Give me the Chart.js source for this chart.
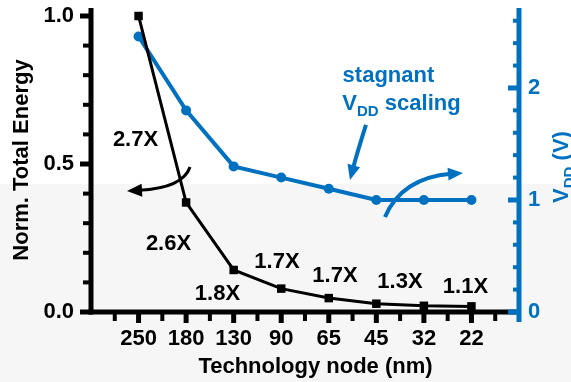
<!DOCTYPE html>
<html>
<head>
<meta charset="utf-8">
<script src="https://cdn.jsdelivr.net/npm/chart.js@4.4.0/dist/chart.umd.min.js"></script>
<style>
  html, body { margin: 0; padding: 0; background: #fff; }
  #wrap { width: 571px; height: 382px; position: relative; }
</style>
</head>
<body>
<div id="wrap"><canvas id="chart"></canvas></div>
<script>
// Data
const nodes = ['250', '180', '130', '90', '65', '45', '32', '22'];
const energy = [1.0, 0.37, 0.142, 0.079, 0.047, 0.028, 0.021, 0.019];
const vdd = [2.46, 1.8, 1.3, 1.2, 1.1, 1.0, 1.0, 1.0];
const energyTicks = ['0.0', '0.5', '1.0'];
const vddTicks = ['0', '1', '2'];
const ratios = ['2.7X', '2.6X', '1.8X', '1.7X', '1.7X', '1.3X', '1.1X'];

const BLUE = '#0070c0';
const FONT = '"Liberation Sans", Arial, sans-serif';

function arrow(ctx, p0, c, tip, color, width) {
    // quadratic curve ending in a filled arrow head
    const dx = tip[0] - c[0], dy = tip[1] - c[1];
    const d = Math.hypot(dx, dy);
    const ux = dx / d, uy = dy / d;
    const len = 15, half = 6.5;
    const bx = tip[0] - ux * (len - 3), by = tip[1] - uy * (len - 3);
    ctx.strokeStyle = color;
    ctx.fillStyle = color;
    ctx.lineWidth = width;
    ctx.beginPath();
    ctx.moveTo(p0[0], p0[1]);
    ctx.quadraticCurveTo(c[0], c[1], bx, by);
    ctx.stroke();
    const hx = tip[0] - ux * len, hy = tip[1] - uy * len;
    ctx.beginPath();
    ctx.moveTo(tip[0], tip[1]);
    ctx.lineTo(hx - uy * half, hy + ux * half);
    ctx.lineTo(hx + uy * half, hy - ux * half);
    ctx.closePath();
    ctx.fill();
}

function noPad(s) {
    s.paddingTop = 0;
    s.paddingBottom = 0;
    s.paddingLeft = 0;
    s.paddingRight = 0;
}

const decor = {
    id: 'decor',
    beforeDraw(chart) {
        const ctx = chart.ctx;
        ctx.save();
        ctx.fillStyle = '#f6f6f6';
        ctx.fillRect(0, 184, chart.width, chart.height - 184);
        ctx.restore();
    },
    beforeDatasetsDraw(chart) {
        const { ctx, chartArea: a, scales: { x, y, y2 } } = chart;
        ctx.save();
        ctx.lineCap = 'butt';
        ctx.strokeStyle = '#000';
        // x ticks, major on the nodes, minor in between
        for (let v = -0.5; v <= 7.5; v += 0.5) {
            const px = x.getPixelForValue(v);
            const major = Number.isInteger(v);
            ctx.lineWidth = major ? 5 : 4;
            ctx.beginPath();
            ctx.moveTo(px, a.bottom);
            ctx.lineTo(px, a.bottom + (major ? 11 : 9));
            ctx.stroke();
        }
        // left ticks every 0.1
        for (let i = 0; i <= 10; i++) {
            const py = y.getPixelForValue(i / 10);
            const major = i % 5 === 0;
            ctx.lineWidth = major ? 5 : 4;
            ctx.beginPath();
            ctx.moveTo(a.left, py);
            ctx.lineTo(a.left - (major ? 11 : 8), py);
            ctx.stroke();
        }
        // left and bottom axis lines
        ctx.lineWidth = 5;
        ctx.beginPath();
        ctx.moveTo(a.left, a.top);
        ctx.lineTo(a.left, a.bottom + 2.5);
        ctx.stroke();
        ctx.beginPath();
        ctx.moveTo(a.left - 2.5, a.bottom);
        ctx.lineTo(a.right, a.bottom);
        ctx.stroke();
        // right axis, ticks pointing inwards every 0.2
        ctx.strokeStyle = BLUE;
        for (let i = 0; i <= 13; i++) {
            const py = y2.getPixelForValue(i / 5);
            const major = i % 5 === 0;
            ctx.lineWidth = major ? 5 : 4;
            ctx.beginPath();
            ctx.moveTo(a.right, py);
            ctx.lineTo(a.right - (major ? 11 : 6), py);
            ctx.stroke();
        }
        ctx.lineWidth = 5;
        ctx.beginPath();
        ctx.moveTo(a.right, a.top);
        ctx.lineTo(a.right, a.bottom + 10);
        ctx.stroke();
        ctx.restore();
    },
    afterDraw(chart) {
        const { ctx, scales: { x, y } } = chart;
        const P = (xv, yv) => [x.getPixelForValue(xv), y.getPixelForValue(yv)];
        ctx.save();

        // reduction factors between nodes
        const spots = [[-0.064, 0.584], [0.63, 0.233], [1.66, 0.064], [2.911, 0.172],
                       [4.13, 0.125], [5.497, 0.105], [6.874, 0.088]];
        ctx.font = 'bold 22px ' + FONT;
        ctx.fillStyle = '#000';
        ctx.textAlign = 'center';
        ctx.textBaseline = 'middle';
        ratios.forEach((t, i) => {
            const p = P(spots[i][0], spots[i][1]);
            ctx.fillText(t, p[0], p[1] + 1);
        });

        // arrows
        arrow(ctx, P(1.082, 0.49), P(0.934, 0.419), P(-0.243, 0.409), '#000', 3);
        arrow(ctx, P(4.782, 0.632), P(4.6, 0.54), P(4.446, 0.446), BLUE, 4);
        arrow(ctx, P(5.182, 0.321), P(5.539, 0.453), P(6.822, 0.47), BLUE, 4);

        // blue note
        ctx.fillStyle = BLUE;
        ctx.textBaseline = 'alphabetic';
        let p = P(5.255, 0.777);
        ctx.fillText('stagnant', p[0], p[1]);
        p = P(5.529, 0.682);
        const big = 'bold 22px ' + FONT, small = 'bold 15px ' + FONT;
        ctx.font = big;
        const wV = ctx.measureText('V').width, wS = ctx.measureText(' scaling').width;
        ctx.font = small;
        const wD = ctx.measureText('DD').width;
        let sx = p[0] - (wV + wD + wS) / 2;
        ctx.textAlign = 'left';
        ctx.font = big;
        ctx.fillText('V', sx, p[1]);
        ctx.font = small;
        ctx.fillText('DD', sx + wV, p[1] + 6);
        ctx.font = big;
        ctx.fillText(' scaling', sx + wV + wD, p[1]);

        // axis titles
        ctx.fillStyle = '#000';
        ctx.textAlign = 'center';
        ctx.fillText('Technology node (nm)', 315.5, 373);

        ctx.save();
        ctx.translate(28, 160);
        ctx.rotate(-Math.PI / 2);
        ctx.fillText('Norm. Total Energy', 0, 0);
        ctx.restore();

        ctx.save();
        ctx.fillStyle = BLUE;
        ctx.font = big;
        const w1 = ctx.measureText('V').width, w3 = ctx.measureText(' (V)').width;
        ctx.font = small;
        const w2 = ctx.measureText('DD').width;
        ctx.translate(568, 167);
        ctx.rotate(-Math.PI / 2);
        ctx.textAlign = 'left';
        let tx = -(w1 + w2 + w3) / 2;
        ctx.font = big;
        ctx.fillText('V', tx, 0);
        ctx.font = small;
        ctx.fillText('DD', tx + w1, 6);
        ctx.font = big;
        ctx.fillText(' (V)', tx + w1 + w2, 0);
        ctx.restore();

        ctx.restore();
    }
};

const ctx = document.getElementById('chart').getContext('2d');
const chart = new Chart(ctx, {
    type: 'line',
    data: {
        datasets: [{
            label: 'Norm. Total Energy',
            data: energy.map((v, i) => ({ x: i, y: v })),
            yAxisID: 'y',
            borderColor: '#000',
            backgroundColor: '#000',
            borderWidth: 3,
            pointStyle: 'rect',
            pointRadius: 6,
            pointBorderWidth: 0,
            pointBackgroundColor: '#000',
            tension: 0
        }, {
            label: 'VDD',
            data: vdd.map((v, i) => ({ x: i, y: v })),
            yAxisID: 'y2',
            borderColor: BLUE,
            backgroundColor: BLUE,
            borderWidth: 4,
            pointStyle: 'circle',
            pointRadius: 5,
            pointBorderWidth: 0,
            pointBackgroundColor: BLUE,
            tension: 0
        }]
    },
    options: {
        responsive: true,
        maintainAspectRatio: false,
        animation: false,
        events: [],
        layout: { padding: { top: 8, left: 0, right: 0, bottom: 0 } },
        plugins: {
            legend: { display: false },
            tooltip: { enabled: false }
        },
        scales: {
            x: {
                type: 'linear',
                min: -1,
                max: 8,
                grid: { display: false, drawTicks: false },
                border: { display: false },
                afterBuildTicks: (s) => { s.ticks = nodes.map((n, i) => ({ value: i })); },
                afterFit: (s) => { s.height = 70; noPad(s); },
                ticks: {
                    autoSkip: false,
                    maxRotation: 0,
                    padding: 14,
                    color: '#000',
                    font: { family: FONT, size: 22, weight: 'bold' },
                    callback: (v) => nodes[v]
                }
            },
            y: {
                position: 'left',
                min: 0,
                max: 1.027,
                grid: { display: false, drawTicks: false },
                border: { display: false },
                afterBuildTicks: (s) => { s.ticks = [0, 0.5, 1].map(v => ({ value: v })); },
                afterFit: (s) => { s.width = 91; noPad(s); },
                ticks: {
                    padding: 17,
                    color: '#000',
                    font: { family: FONT, size: 22, weight: 'bold' },
                    callback: (v) => energyTicks[Math.round(v * 2)]
                }
            },
            y2: {
                position: 'right',
                min: 0,
                max: 2.714,
                grid: { display: false, drawTicks: false },
                border: { display: false },
                afterBuildTicks: (s) => { s.ticks = [0, 1, 2].map(v => ({ value: v })); },
                afterFit: (s) => { s.width = 52; noPad(s); },
                ticks: {
                    padding: 9,
                    color: BLUE,
                    font: { family: FONT, size: 22, weight: 'bold' },
                    callback: (v) => vddTicks[v]
                }
            }
        }
    },
    plugins: [decor]
});
</script>
</body>
</html>
